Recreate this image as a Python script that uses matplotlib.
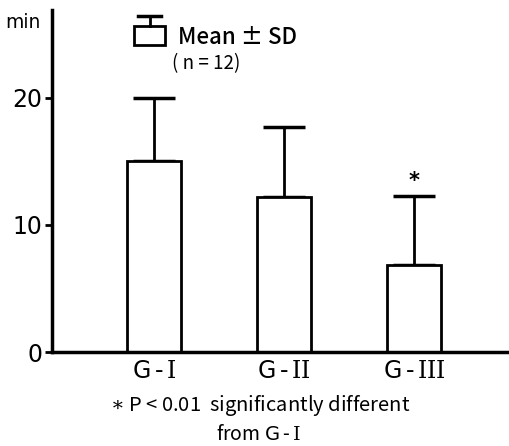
import matplotlib.pyplot as plt
from matplotlib.patches import Rectangle

plt.rcParams["mathtext.fontset"] = "dejavuserif"

groups = ["$\\mathsf{G}\\,$-$\\,\\mathrm{I}$", "$\\mathsf{G}\\,$-$\\,\\mathrm{II}$",
          "$\\mathsf{G}\\,$-$\\,\\mathrm{III}$"]
means = [15.0, 12.2, 6.85]
sds = [5.0, 5.5, 5.45]
yticks = [0, 10, 20]

cjk = ["Noto Sans CJK JP", "DejaVu Sans"]

fig = plt.figure(figsize=(5.10, 4.46), dpi=100)
ax = fig.add_axes([52 / 510, 94 / 446, 1 - 52 / 510, (352 - 10) / 446])

x = range(len(groups))
ax.bar(x, means, width=0.415, facecolor="white", edgecolor="black", linewidth=2, zorder=2)
ax.errorbar(x, means, yerr=[[0] * 3, sds], fmt="none", ecolor="black",
            elinewidth=2, capsize=15, capthick=2.5, zorder=1)

# significance star on G-III
ax.text(2, means[2] + sds[2] + 0.4, "*", ha="center", va="bottom", fontsize=15, fontweight="bold")

ax.set_xlim(-0.785, 2.735)
ax.set_ylim(0, 26.9)
ax.set_yticks(yticks)
ax.set_yticklabels([str(t) for t in yticks], fontsize=17,
                   family=["Liberation Sans Narrow", "DejaVu Sans"])
ax.tick_params(axis="y", length=5, width=2, direction="out", pad=2)
ax.set_xticks(list(x))
ax.set_xticklabels(groups, fontsize=17)
ax.tick_params(axis="x", length=0, pad=5)
for s in ["top", "right"]:
    ax.spines[s].set_visible(False)
for s in ["left", "bottom"]:
    ax.spines[s].set_linewidth(2.5)

fig.text(5 / 510, 1 - 22 / 446, "min", fontsize=13.5, va="center", ha="left")

# legend drawn by hand
fig.patches.append(Rectangle((134 / 510, 1 - 45 / 446), 31 / 510, 19 / 446,
                             transform=fig.transFigure, fill=False, edgecolor="black", linewidth=2))
fig.lines.append(plt.Line2D([149.5 / 510, 149.5 / 510], [1 - 26 / 446, 1 - 16 / 446],
                            transform=fig.transFigure, color="black", linewidth=2))
fig.lines.append(plt.Line2D([138 / 510, 161 / 510], [1 - 16 / 446, 1 - 16 / 446],
                            transform=fig.transFigure, color="black", linewidth=2.5))
fig.text(178 / 510, 1 - 37 / 446, "Mean ± SD", fontsize=16, va="center", ha="left",
         family=cjk, fontweight="medium")
fig.text(172 / 510, 1 - 64 / 446, "( n = 12)", fontsize=13.5, va="center", ha="left", family=cjk)

fig.text(260 / 510, 1 - 406 / 446, "$\\ast$ P < 0.01  significantly different", fontsize=14.5,
         ha="center", va="center", family=cjk)
fig.text(258 / 510, 1 - 434 / 446, "from $\\mathsf{G}\\,$-$\\,\\mathrm{I}$", fontsize=14,
         ha="center", va="center", family=cjk)

fig.savefig("out.png", dpi=100)
